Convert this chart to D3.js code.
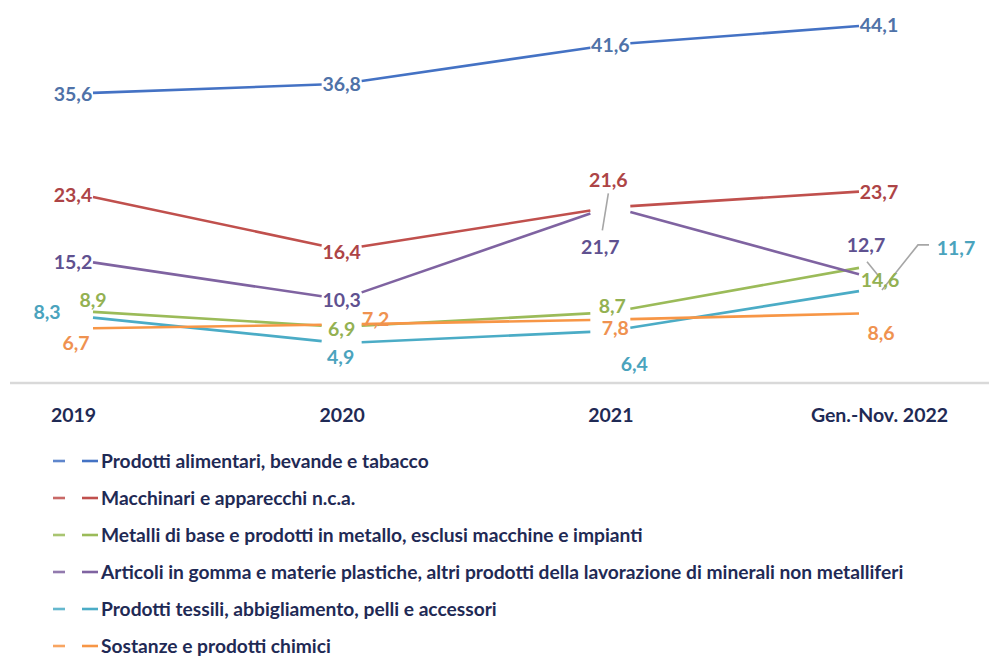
<!DOCTYPE html>
<html>
<head>
<meta charset="utf-8">
<script src="https://cdn.jsdelivr.net/npm/d3@7"></script>
<style>
  html, body { margin: 0; padding: 0; background: #ffffff; }
  svg { display: block; }
</style>
</head>
<body>
<div id="chart"></div>
<script>
// ---------- DATA ----------
const categories = ["2019", "2020", "2021", "Gen.-Nov. 2022"];
const seriesNames = [
  "Prodotti alimentari, bevande e tabacco",
  "Macchinari e apparecchi n.c.a.",
  "Metalli di base e prodotti in metallo, esclusi macchine e impianti",
  "Articoli in gomma e materie plastiche, altri prodotti della lavorazione di minerali non metalliferi",
  "Prodotti tessili, abbigliamento, pelli e accessori",
  "Sostanze e prodotti chimici"
];
const alimentari = [35.6, 36.8, 41.6, 44.1];
const macchinari = [23.4, 16.4, 21.6, 23.7];
const metalli    = [8.9, 6.9, 8.7, 14.6];
const gomma      = [15.2, 10.3, 21.7, 12.7];
const tessili    = [8.3, 4.9, 6.4, 11.7];
const chimici    = [6.7, 7.2, 7.8, 8.6];
const seriesValues = [alimentari, macchinari, metalli, gomma, tessili, chimici];

// ---------- STYLE ----------
const lineColors  = ["#4472c4", "#c0504d", "#9bbb59", "#7f63a1", "#4bacc6", "#f79646"];
const labelColors = ["#4f72a8", "#ad4446", "#93b152", "#5f5190", "#4aa3bd", "#ef9250"];
// label offsets relative to point [dx, dy]
const labelOffsets = [
  [[0, 0], [0, 0], [0, 0], [0, 0]],
  [[0, 2], [0, 2], [-2, -27], [0, 2]],
  [[20, -11], [0, 2], [2, -6], [1, 16]],
  [[0, 3], [0, 1], [-10, 40], [-13, -35]],
  [[-26, -4], [-1, 14], [24, 33], [77, -40]],
  [[3, 14], [34, -5], [5, 8], [2, 20]]
];
// leader lines [series, category, points relative to point]
const leaders = [
  [1, 2, [[-2, -14], [-8, 23]]],
  [3, 3, [[-12, -18], [1, -2]]],
  [4, 3, [[50, -43], [39, -43], [3, 2]]]
];

const W = 989, H = 661;
const svg = d3.select("#chart").append("svg").attr("width", W).attr("height", H);
svg.append("rect").attr("width", W).attr("height", H).attr("fill", "#fff");

const x = d3.scalePoint().domain(categories).range([73, 879]);
const y = d3.scaleLinear().domain([0, 44.1]).range([383, 24.5]);

const fmt = d3.formatLocale({decimal: ",", thousands: ".", grouping: [3], currency: ["", "€"]}).format(".1f");
const fontFam = "Lato, 'Open Sans', sans-serif";
const textDark = "#1f2a55";

// axis baseline
svg.append("line").attr("x1", 10).attr("x2", W).attr("y1", y(0)).attr("y2", y(0))
  .attr("stroke", "#d9d9d9").attr("stroke-width", 2.5);

// x axis (tick labels only)
const xAxis = d3.axisBottom(x).tickSize(0).tickPadding(0);
const gx = svg.append("g").attr("transform", `translate(0,${y(0)})`).call(xAxis);
gx.select(".domain").remove();
gx.selectAll("text")
  .attr("y", 39).attr("dy", "0")
  .attr("font-family", fontFam).attr("font-weight", 700).attr("font-size", 19.5)
  .attr("fill", textDark);

// lines with gaps around each point
const GAP = 20;
seriesValues.forEach((vals, si) => {
  const pts = vals.map((v, i) => [x(categories[i]), y(v)]);
  const g = svg.append("g");
  for (let i = 0; i < pts.length - 1; i++) {
    const [x0, y0] = pts[i], [x1, y1] = pts[i + 1];
    const dx = x1 - x0;
    const t0 = GAP / dx, t1 = 1 - GAP / dx;
    g.append("line")
      .attr("x1", x0 + dx * t0).attr("y1", y0 + (y1 - y0) * t0)
      .attr("x2", x0 + dx * t1).attr("y2", y0 + (y1 - y0) * t1)
      .attr("stroke", lineColors[si]).attr("stroke-width", 2.6)
      .attr("stroke-linecap", "butt");
  }
});

// leader lines
leaders.forEach(([si, ci, rel]) => {
  const px = x(categories[ci]), py = y(seriesValues[si][ci]);
  svg.append("polyline")
    .attr("points", rel.map(([a, b]) => `${px + a},${py + b}`).join(" "))
    .attr("fill", "none").attr("stroke", "#a6a6a6").attr("stroke-width", 1.6);
});

// data labels
seriesValues.forEach((vals, si) => {
  svg.append("g").selectAll("text").data(vals).join("text")
    .attr("x", (v, i) => x(categories[i]) + labelOffsets[si][i][0])
    .attr("y", (v, i) => y(v) + labelOffsets[si][i][1])
    .attr("dy", "0.36em")
    .attr("text-anchor", "middle")
    .attr("font-family", fontFam).attr("font-weight", 700).attr("font-size", 19.5)
    .attr("fill", labelColors[si])
    .text(v => fmt(v));
});

// legend
const legend = svg.append("g");
seriesNames.forEach((name, i) => {
  const ly = 461 + i * 37;
  const g = legend.append("g").attr("transform", `translate(0,${ly})`);
  g.append("line").attr("x1", 53).attr("x2", 65).attr("y1", 0).attr("y2", 0)
    .attr("stroke", lineColors[i]).attr("stroke-width", 2.6).attr("opacity", 0.85);
  g.append("line").attr("x1", 82).attr("x2", 98).attr("y1", 0).attr("y2", 0)
    .attr("stroke", lineColors[i]).attr("stroke-width", 2.6);
  g.append("text").attr("x", 101).attr("y", 0).attr("dy", "0.35em")
    .attr("font-family", fontFam).attr("font-weight", 700).attr("font-size", 19.2)
    .attr("fill", textDark).text(name);
});
</script>
</body>
</html>
